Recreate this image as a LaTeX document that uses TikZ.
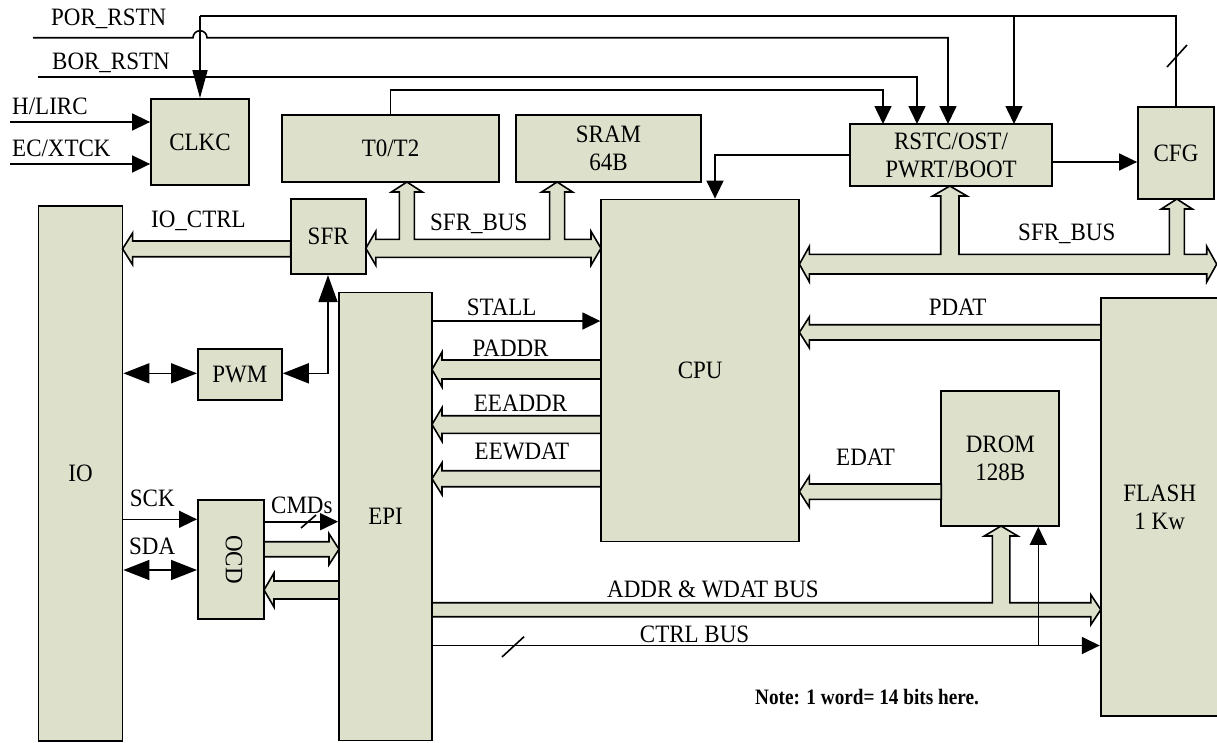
\documentclass[tikz,border=0pt]{standalone}
\usepackage{fontspec}
\usepackage{graphicx}
\setmainfont{Liberation Serif}[FakeStretch=0.92]
\usetikzlibrary{arrows.meta,calc}
\definecolor{boxfill}{RGB}{221,225,204}
\tikzset{
  blk/.style={draw, fill=boxfill, line width=1.8pt, inner sep=0pt, align=center,
     font=\fontsize{25}{28}\selectfont},
  lbl/.style={inner sep=0pt, anchor=base west, font=\fontsize{25}{28}\selectfont},
  wire/.style={line width=1.6pt},
  arr/.style={wire, -{Triangle[length=18pt,width=17pt]}},
  dblarr/.style={wire, {Triangle[length=26pt,width=20pt]}-{Triangle[length=26pt,width=20pt]}},
  bus/.style={draw, fill=boxfill, line width=1.6pt, line join=miter},
}
% hollow bus arrow pointing left: tip x, tail x, top y, bottom y
\newcommand{\busL}[4]{%
  \filldraw[bus] (#1,{(#3+#4)/2}) -- (#1+10,#3-8) -- (#1+10,#3) -- (#2,#3) -- (#2,#4) -- (#1+10,#4) -- (#1+10,#4+8) -- cycle;}
% hollow bus arrow pointing right: tip x, tail x, top y, bottom y
\newcommand{\busR}[4]{%
  \filldraw[bus] (#1,{(#3+#4)/2}) -- (#1-10,#3-8) -- (#1-10,#3) -- (#2,#3) -- (#2,#4) -- (#1-10,#4) -- (#1-10,#4+8) -- cycle;}
\begin{document}
\begin{tikzpicture}[x=1pt,y=-1pt]
\useasboundingbox (0,0) rectangle (1217,742);

% ---------- blocks ----------
\node[blk, minimum width=98pt, minimum height=86pt] (clkc) at (200,142) {CLKC};
\node[blk, minimum width=217pt, minimum height=67pt] (t0) at (390.5,148.5) {T0/T2};
\node[blk, minimum width=185pt, minimum height=67pt] (sram) at (608.5,148.5) {SRAM\\64B};
\node[blk, minimum width=202pt, minimum height=62pt] (rstc) at (951,155) {RSTC/OST/\\PWRT/BOOT};
\node[blk, minimum width=76pt, minimum height=92pt] (cfg) at (1176,153) {CFG};
\node[blk, minimum width=84pt, minimum height=535pt] (io) at (80.5,473.2) {IO};
\node[blk, minimum width=75pt, minimum height=75pt] (sfr) at (328.2,236.7) {SFR};
\node[blk, minimum width=84pt, minimum height=51pt] (pwm) at (239.9,374.5) {PWM};
\node[blk, minimum width=93pt, minimum height=448pt] (epi) at (385.5,516.5) {EPI};
\node[blk, minimum width=198pt, minimum height=342pt] (cpu) at (700.2,370.5) {CPU};
\node[blk, minimum width=66pt, minimum height=119pt] (ocd) at (230.9,559.5) {};
\node[rotate=-90, font=\fontsize{25}{28}\selectfont, inner sep=0pt] (ocdtxt) at (234,559.5) {OCD};
\node[blk, minimum width=118pt, minimum height=135pt] (drom) at (1000.3,458.5) {DROM\\128B};
\node[blk, minimum width=118pt, minimum height=418pt] (flash) at (1159.7,507.2) {FLASH\\1 Kw};

% ---------- buses ----------
% IO_CTRL
\busL{122.6}{290.6}{241}{256.7}
% SFR_BUS (left) with branches to T0/T2 and SRAM
\filldraw[bus] (365.8,248.3) -- (375.8,231.3) -- (375.8,239.3) -- (399.4,239.3) -- (399.4,192)
  -- (391.4,192) -- (406.9,182) -- (422.4,192) -- (414.4,192) -- (414.4,239.3)
  -- (549.6,239.3) -- (549.6,192) -- (541.6,192) -- (557.1,182) -- (572.6,192) -- (564.6,192)
  -- (564.6,239.3) -- (591,239.3) -- (591,231.3) -- (601,248.3) -- (591,265.3) -- (591,257.3)
  -- (375.8,257.3) -- (375.8,265.3) -- cycle;
% SFR_BUS (right) with branches to RSTC and CFG
\filldraw[bus] (799.4,264.15) -- (809.4,246.3) -- (809.4,254.3) -- (940.7,254.3) -- (940.7,196)
  -- (932.7,196) -- (949.85,186) -- (967,196) -- (959,196) -- (959,254.3)
  -- (1169.3,254.3) -- (1169.3,209) -- (1161.3,209) -- (1176.8,199) -- (1192.3,209) -- (1184.3,209)
  -- (1184.3,254.3) -- (1206.7,254.3) -- (1206.7,246.3) -- (1216.7,264.15) -- (1206.7,282) -- (1206.7,274)
  -- (809.4,274) -- (809.4,282) -- cycle;
% CPU -> EPI buses
\busL{432}{601}{360}{379}
\busL{432}{601}{415.7}{433.3}
\busL{432}{601}{470.7}{486.7}
% FLASH -> CPU, DROM -> CPU
\busL{799.4}{1100.8}{324.7}{340}
\busL{799.4}{941.2}{484}{499.3}
% OCD <-> EPI
\busR{339}{264}{541.7}{556.7}
\busL{264}{339}{581}{599}
% ADDR & WDAT BUS with branch to DROM
\filldraw[bus] (432,602.7) -- (992.3,602.7) -- (992.3,536) -- (984.3,536) -- (1001,526)
  -- (1017.8,536) -- (1009.8,536) -- (1009.8,602.7) -- (1090.8,602.7) -- (1090.8,594.7)
  -- (1100.8,609.7) -- (1090.8,624.7) -- (1090.8,616.7) -- (432,616.7) -- cycle;

% ---------- wires ----------
% POR_RSTN with hop
\coordinate (porin) at (33,37.7);
\draw[arr] (porin) -- (193,37.7) arc (180:360:7) -- (948,37.7) -- (948,124);
% BOR_RSTN
\coordinate (borin) at (38,77);
\draw[arr] (borin) -- (917,77) -- (917,124);
% CFG feedback to CLKC and RSTC
\draw[wire] (cfg.north) -- (1176,15.7) -- (200,15.7);
\draw[wire, -{Triangle[length=28pt,width=15pt]}] (200,15.7) -- (clkc.north);
\draw[arr] (1014,15.7) -- (1014,124);
\draw[wire] (1167,67) -- (1187,45);
% T0/T2 -> RSTC
\draw[arr] (t0.north) -- (390.5,90) -- (883,90) -- (883,124);
% RSTC -> CFG
\draw[arr] (rstc.east |- 0,162) -- (cfg.west |- 0,162);
% RSTC -> CPU
\draw[arr] (rstc.west) -- (715,155) -- (cpu.north -| 715,0);
% clocks
\coordinate (hl) at (10,122);
\coordinate (ec) at (10,164);
\draw[arr] (hl) -- (clkc.west |- hl);
\draw[arr] (ec) -- (clkc.west |- ec);
% IO <-> PWM
\draw[dblarr] (io.east |- 0,373.3) -- (pwm.west |- 0,373.3);
% PWM <-> SFR
\draw[wire, {Triangle[length=26pt,width=20pt]}-{Triangle[length=27pt,width=19pt]}]
  (pwm.east |- 0,373.3) -- (328,373.3) -- (sfr.south -| 328,0);
% STALL
\draw[arr] (epi.east |- 0,321) -- (cpu.west |- 0,321);
% SCK, SDA
\draw[arr] (io.east |- 0,519.3) -- (ocd.west |- 0,519.3);
\draw[dblarr] (io.east |- 0,570) -- (ocd.west |- 0,570);
% CMDs
\draw[arr] (ocd.east |- 0,521.7) -- (epi.west |- 0,521.7);
\draw[wire] (301,528) -- (316,515);
% CTRL BUS
\draw[arr] (epi.east |- 0,645.5) -- (flash.west |- 0,645.5);
\draw[wire] (502,657) -- (524,636.7);
\draw[arr] (1038.3,645.5) -- (drom.south -| 1038.3,0);

% ---------- labels ----------
\node[lbl] (tpor) at (51,25) {POR\_RSTN};
\node[lbl] (tbor) at (52,69) {BOR\_RSTN};
\node[lbl] (thl) at (12,114.3) {H/LIRC};
\node[lbl] (tec) at (12,156) {EC/XTCK};
\node[lbl] (tioc) at (151,227.3) {IO\_CTRL};
\node[lbl] (tsfrl) at (430,230.7) {SFR\_BUS};
\node[lbl] (tsfrr) at (1018,240) {SFR\_BUS};
\node[lbl] (tstall) at (466.6,315) {STALL};
\node[lbl] (tpaddr) at (472.5,356.7) {PADDR};
\node[lbl] (teeaddr) at (473.7,411.7) {EEADDR};
\node[lbl] (teewdat) at (474.5,459.3) {EEWDAT};
\node[lbl] (tpdat) at (928.6,315) {PDAT};
\node[lbl] (tedat) at (836,465) {EDAT};
\node[lbl] (taddr) at (607,597.3) {ADDR \& WDAT BUS};
\node[lbl] (tctrl) at (639.7,642.7) {CTRL BUS};
\node[lbl] (tsck) at (129.7,506) {SCK};
\node[lbl] (tsda) at (129,554.3) {SDA};
\node[lbl] (tcmd) at (271,513.3) {CMDs};
\node[lbl, font=\fontsize{22}{26}\selectfont\bfseries] (tnote) at (755,704) {\scalebox{0.95}[1]{Note: 1 word= 14 bits here.}};
\end{tikzpicture}
\end{document}
